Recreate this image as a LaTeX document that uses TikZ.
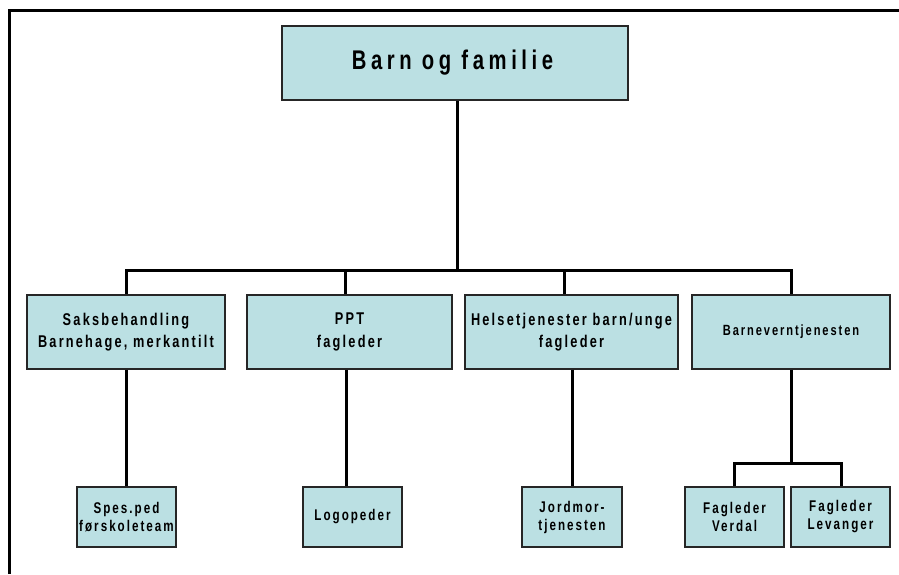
\documentclass[tikz,border=0pt]{standalone}
\usepackage{fontspec}
\newfontfamily\boxfont{Liberation Sans}[FakeStretch=0.75,LetterSpace=13]
\newfontfamily\titlefont{Liberation Sans}[FakeStretch=0.75,LetterSpace=17]
\definecolor{boxfill}{HTML}{BBE0E3}
\begin{document}
\begin{tikzpicture}[x=1pt,y=-1pt,
  orgbox/.style={draw=black!85,line width=1.2pt,fill=boxfill,inner sep=0pt,align=center,
     font=\boxfont\bfseries\fontsize{17}{22.5}\selectfont},
  smallbox/.style={orgbox,font=\boxfont\bfseries\fontsize{15.5}{18}\selectfont},
  conn/.style={line width=3pt}]
\useasboundingbox (0,0) rectangle (899,574);
% frame
\draw[line width=3pt] (9.5,574) -- (9.5,10.3) -- (899,10.3);
% bar coordinates
\coordinate (k0) at (457,270.5);
\coordinate (k1) at (126,270.5);
\coordinate (k2) at (345,270.5);
\coordinate (k3) at (564.5,270.5);
\coordinate (k4) at (791,270.5);
\coordinate (d1) at (126,420);
\coordinate (d2) at (346,420);
\coordinate (d3) at (572,420);
\coordinate (v4) at (791,463);
\coordinate (v5) at (734,463);
\coordinate (v6) at (841,463);
% nodes
\node[orgbox,minimum width=346pt,minimum height=74pt,font=\titlefont\bfseries\fontsize{27}{30}\selectfont] (top) at (455,63) {Barn og familie\hspace*{5pt}};
\node[orgbox,minimum width=198pt,minimum height=74pt] (b1) at (126,332) {Saksbehandling\\Barnehage, merkantilt};
\node[orgbox,minimum width=205pt,minimum height=74pt] (b2) at (349.5,332) {PPT\\fagleder};
\node[orgbox,minimum width=213pt,minimum height=74pt] (b3) at (571.5,332) {Helsetjenester barn/unge\\fagleder};
\node[orgbox,minimum width=198pt,minimum height=74pt,font=\boxfont\bfseries\fontsize{14.8}{18}\selectfont] (b4) at (791,332) {Barneverntjenesten};
\node[smallbox,minimum width=99pt,minimum height=60pt] (c1) at (126.5,517) {Spes.ped\\førskoleteam};
\node[smallbox,minimum width=99pt,minimum height=60pt] (c2) at (352.5,517) {Logopeder};
\node[smallbox,minimum width=100pt,minimum height=60pt] (c3) at (572,517) {Jordmor-\\tjenesten};
\node[smallbox,minimum width=99pt,minimum height=60pt] (c4) at (734.5,517) {Fagleder\\Verdal};
\node[smallbox,minimum width=99pt,minimum height=60pt] (c5) at (840.5,517) {Fagleder\\Levanger};
% connectors
\draw[conn] (top.south -| k0) -- (k0);
\draw[conn,line cap=rect] (k1) -- (k4);
\draw[conn] (k1) -- (k1 |- b1.north);
\draw[conn] (k2) -- (k2 |- b2.north);
\draw[conn] (k3) -- (k3 |- b3.north);
\draw[conn] (k4) -- (k4 |- b4.north);
\draw[conn] (b1.south -| d1) -- (c1.north -| d1);
\draw[conn] (b2.south -| d2) -- (c2.north -| d2);
\draw[conn] (b3.south -| d3) -- (c3.north -| d3);
\draw[conn] (b4.south -| v4) -- (v4);
\draw[conn,line cap=rect] (v5) -- (v6);
\draw[conn] (v5) -- (v5 |- c4.north);
\draw[conn] (v6) -- (v6 |- c5.north);
\end{tikzpicture}
\end{document}
